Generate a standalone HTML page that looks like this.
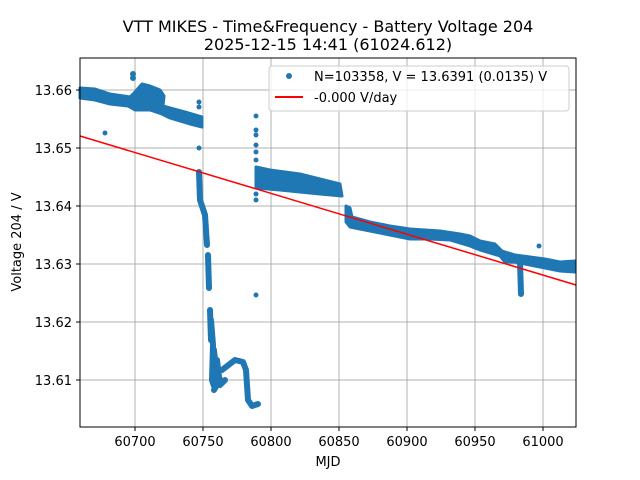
<!DOCTYPE html>
<html><head><style>body{margin:0;background:#fff}svg{display:block}</style></head><body>
<svg width="640" height="480" xmlns="http://www.w3.org/2000/svg" font-family="'DejaVu Sans', 'Liberation Sans', sans-serif">
<rect width="640" height="480" fill="#fff"/>
<text x="328" y="32" font-size="16" text-anchor="middle">VTT MIKES - Time&amp;Frequency - Battery Voltage 204</text>
<text x="328" y="50" font-size="16" text-anchor="middle">2025-12-15 14:41 (61024.612)</text>
<g stroke="#b0b0b0" stroke-width="1">
<line x1="135" y1="58" x2="135" y2="427"/><line x1="203" y1="58" x2="203" y2="427"/><line x1="271" y1="58" x2="271" y2="427"/><line x1="339" y1="58" x2="339" y2="427"/><line x1="407" y1="58" x2="407" y2="427"/><line x1="475" y1="58" x2="475" y2="427"/><line x1="543" y1="58" x2="543" y2="427"/>
<line x1="80" y1="90" x2="576" y2="90"/><line x1="80" y1="148" x2="576" y2="148"/><line x1="80" y1="206" x2="576" y2="206"/><line x1="80" y1="264" x2="576" y2="264"/><line x1="80" y1="322" x2="576" y2="322"/><line x1="80" y1="380" x2="576" y2="380"/>
</g>
<g fill="#1f77b4" stroke="#1f77b4" stroke-width="3" stroke-linejoin="round">
<polygon points="80,88 95,89 110,94 130,97 135,92 142,84 150,86 160,90 164,96 163,106 170,108 185,112 202,117 202,127 190,124 170,118 162,114 150,110 135,110 128,106 110,104 95,100 80,98"/>
<polygon points="256,167 270,170 300,174 320,179 340,184 342,196 320,194 300,192 280,190 256,188"/>
<polygon points="346,206 350,208 352,217 370,222 390,226 410,229 440,231 460,234 470,236 480,241 495,244 502,251 515,255 530,257 545,259 560,262 575,261 575,272 560,271 545,268 530,265 515,262 505,262 500,256 480,250 470,246 450,240 430,239 410,239 390,235 370,231 350,227 346,222"/>
</g>
<g fill="none" stroke="#1f77b4" stroke-width="6" stroke-linecap="round" stroke-linejoin="round">
<polyline points="199,172 200,200 205,215 207,245"/>
<polyline points="208,255 209,288"/>
<polyline points="210,310 211,340"/>
<polyline points="211,320 213,345 212,380 214,386 218,370 222,370 235,360 243,362 246,370 248,400 252,406 258,404"/>
<polyline points="214,350 216,370 220,380 214,390"/>
<polyline points="217,360 220,385 225,380"/>
<polyline points="520,262 521,294"/>
</g>
<g fill="#1f77b4">
<circle cx="133" cy="74" r="3"/><circle cx="133" cy="78" r="3"/><circle cx="105" cy="133" r="2.5"/>
<circle cx="199" cy="102" r="2.5"/><circle cx="199" cy="107" r="2.5"/><circle cx="199" cy="125" r="2.5"/><circle cx="199" cy="148" r="2.5"/>
<circle cx="256" cy="116" r="2.5"/><circle cx="256" cy="130" r="2.5"/><circle cx="256" cy="135" r="2.5"/><circle cx="256" cy="145" r="2.5"/><circle cx="256" cy="152" r="2.5"/><circle cx="256" cy="160" r="2.5"/><circle cx="256" cy="194" r="2.5"/><circle cx="256" cy="200" r="2.5"/><circle cx="256" cy="295" r="2.5"/>
<circle cx="539" cy="246" r="2.5"/>
</g>
<line x1="80" y1="136" x2="576" y2="285" stroke="#ff0000" stroke-width="1.5"/>
<rect x="80" y="58" width="496" height="369" fill="none" stroke="#000" stroke-width="1"/>
<g stroke="#000"><line x1="135" y1="427" x2="135" y2="431"/><line x1="203" y1="427" x2="203" y2="431"/><line x1="271" y1="427" x2="271" y2="431"/><line x1="339" y1="427" x2="339" y2="431"/><line x1="407" y1="427" x2="407" y2="431"/><line x1="475" y1="427" x2="475" y2="431"/><line x1="543" y1="427" x2="543" y2="431"/>
<line x1="76" y1="90" x2="80" y2="90"/><line x1="76" y1="148" x2="80" y2="148"/><line x1="76" y1="206" x2="80" y2="206"/><line x1="76" y1="264" x2="80" y2="264"/><line x1="76" y1="322" x2="80" y2="322"/><line x1="76" y1="380" x2="80" y2="380"/></g>
<g font-size="13" text-anchor="middle">
<text x="135" y="446">60700</text><text x="203" y="446">60750</text><text x="271" y="446">60800</text><text x="339" y="446">60850</text><text x="407" y="446">60900</text><text x="475" y="446">60950</text><text x="543" y="446">61000</text>
<text x="328" y="466">MJD</text></g>
<g font-size="13" text-anchor="end">
<text x="72" y="95">13.66</text><text x="72" y="153">13.65</text><text x="72" y="211">13.64</text><text x="72" y="269">13.63</text><text x="72" y="327">13.62</text><text x="72" y="385">13.61</text></g>
<text transform="translate(21,242) rotate(-90)" font-size="13" text-anchor="middle">Voltage 204 / V</text>
<rect x="269" y="66" width="300" height="45" rx="3" fill="#fff" fill-opacity="0.8" stroke="#ccc"/>
<circle cx="289" cy="76" r="3" fill="#1f77b4"/>
<text x="314" y="81" font-size="13">N=103358, V = 13.6391 (0.0135) V</text>
<line x1="275" y1="97" x2="303" y2="97" stroke="#ff0000" stroke-width="2"/>
<text x="314" y="102" font-size="13">-0.000 V/day</text>
</svg>
</body></html>
